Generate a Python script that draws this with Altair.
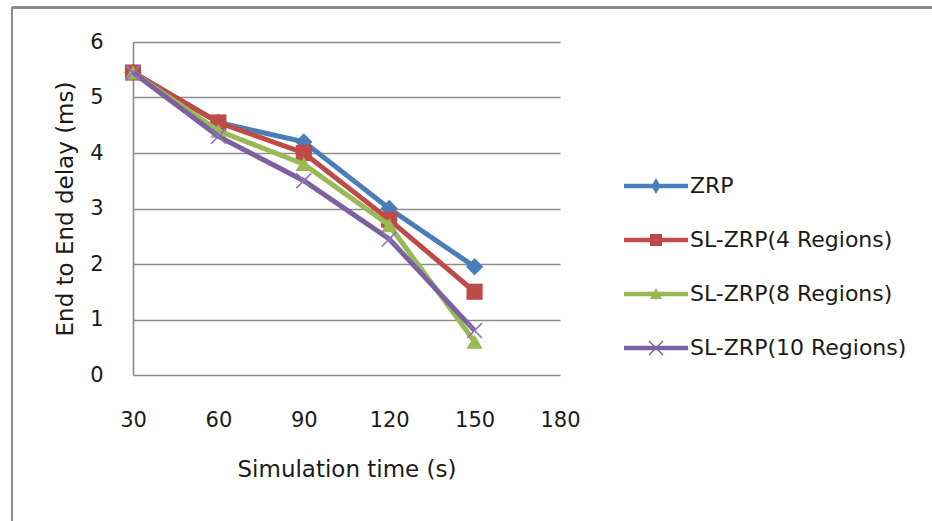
import altair as alt
import pandas as pd

times = [30, 60, 90, 120, 150]
series_names = ["ZRP", "SL-ZRP(4 Regions)", "SL-ZRP(8 Regions)", "SL-ZRP(10 Regions)"]
zrp = [5.45, 4.55, 4.2, 3.0, 1.95]
sl4 = [5.45, 4.55, 4.0, 2.8, 1.5]
sl8 = [5.45, 4.4, 3.8, 2.7, 0.6]
sl10 = [5.45, 4.3, 3.5, 2.45, 0.8]
x_ticks = [30, 60, 90, 120, 150, 180]
y_ticks = [0, 1, 2, 3, 4, 5, 6]

colors = ["#4A7EBB", "#BE4B48", "#98B954", "#7D60A0"]
FONT = "DejaVu Sans"

values = [zrp, sl4, sl8, sl10]
rows = []
for name, vals in zip(series_names, values):
    for t, v in zip(times, vals):
        rows.append({"time": t, "delay": v, "series": name})
df = pd.DataFrame(rows)

x_enc = alt.X("time:Q", scale=alt.Scale(domain=[30, 180], nice=False, zero=False),
              axis=alt.Axis(values=x_ticks, grid=False, domain=False, ticks=False, labelFlush=False,
                            labelPadding=34, title="Simulation time (s)", titlePadding=28))
y_enc = alt.Y("delay:Q", scale=alt.Scale(domain=[0, 6], nice=False),
              axis=alt.Axis(values=y_ticks, grid=True, domain=True, ticks=False, labelFlush=False,
                            labelPadding=30, title="End to End delay (ms)", titlePadding=12))

X_PATH = "M-1,-1L1,1M-1,1L1,-1"
marker_shapes = ["diamond", "square", "triangle-up", X_PATH]
marker_sizes = [300, 260, 260, 220]

layers = []
for i, name in enumerate(series_names):
    base = alt.Chart(df).transform_filter(alt.datum.series == name)
    layers.append(base.mark_line(color=colors[i], strokeWidth=5).encode(x=x_enc, y=y_enc))
    if i < 3:
        layers.append(base.mark_point(filled=True, color=colors[i], opacity=1,
                                      shape=marker_shapes[i], size=marker_sizes[i]).encode(x=x_enc, y=y_enc))
    else:
        layers.append(base.mark_point(filled=False, color="#8E74B8", opacity=1, strokeWidth=1.6,
                                      shape=marker_shapes[i], size=marker_sizes[i]).encode(x=x_enc, y=y_enc))

# Legend symbols: line + marker as composite paths
LINE = "M-3.2,-0.22H3.2V0.22H-3.2Z"
legend_paths = [
    LINE + "M0,-0.8L0.45,0L0,0.8L-0.45,0Z",
    LINE + "M-0.6,-0.6H0.6V0.6H-0.6Z",
    LINE + "M0,-0.6L0.6,0.5H-0.6Z",
    LINE + "M-0.75,-0.65L-0.65,-0.75L0.75,0.65L0.65,0.75ZM-0.75,0.65L0.65,-0.75L0.75,-0.65L-0.65,0.75Z",
]
legend_layer = alt.Chart(df).transform_filter("false").mark_point(filled=True, opacity=1).encode(
    x=x_enc, y=y_enc,
    color=alt.Color("series:N", scale=alt.Scale(domain=series_names, range=colors), title=None),
    shape=alt.Shape("series:N", scale=alt.Scale(domain=series_names, range=legend_paths), title=None),
)
layers.append(legend_layer)

# outer chart frame
frame_top = alt.Chart(df).mark_rule(color="#8c8c8c", strokeWidth=1.5).encode(
    x=alt.value(-121), x2=alt.value(799), y=alt.value(-34.5))
frame_left = alt.Chart(df).mark_rule(color="#8c8c8c", strokeWidth=1.5).encode(
    x=alt.value(-121), y=alt.value(-34.5), y2=alt.value(480))
layers = [frame_top, frame_left] + layers

chart = alt.layer(*layers).properties(
    width=427, height=333,
    autosize=alt.AutoSizeParams(type="none"),
    padding={"left": 133, "top": 42, "right": 372, "bottom": 146},
    background="white",
).configure_view(stroke=None).configure_axis(
    labelFont=FONT, titleFont=FONT, labelFontSize=21, titleFontSize=23,
    labelColor="#1a1a1a", titleColor="#1a1a1a", titleFontWeight="normal",
    gridColor="#8c8c8c", gridWidth=1.6, domainColor="#8c8c8c", domainWidth=1.6,
).configure_legend(
    orient="none", legendX=490, legendY=133, padding=0,
    symbolSize=400, symbolOffset=22, labelOffset=23, rowPadding=32, labelLimit=0,
    labelFont=FONT, labelFontSize=22, labelColor="#1a1a1a", symbolStrokeWidth=0,
)

chart.save("out.html", embed_options={"renderer": "svg", "actions": False})
